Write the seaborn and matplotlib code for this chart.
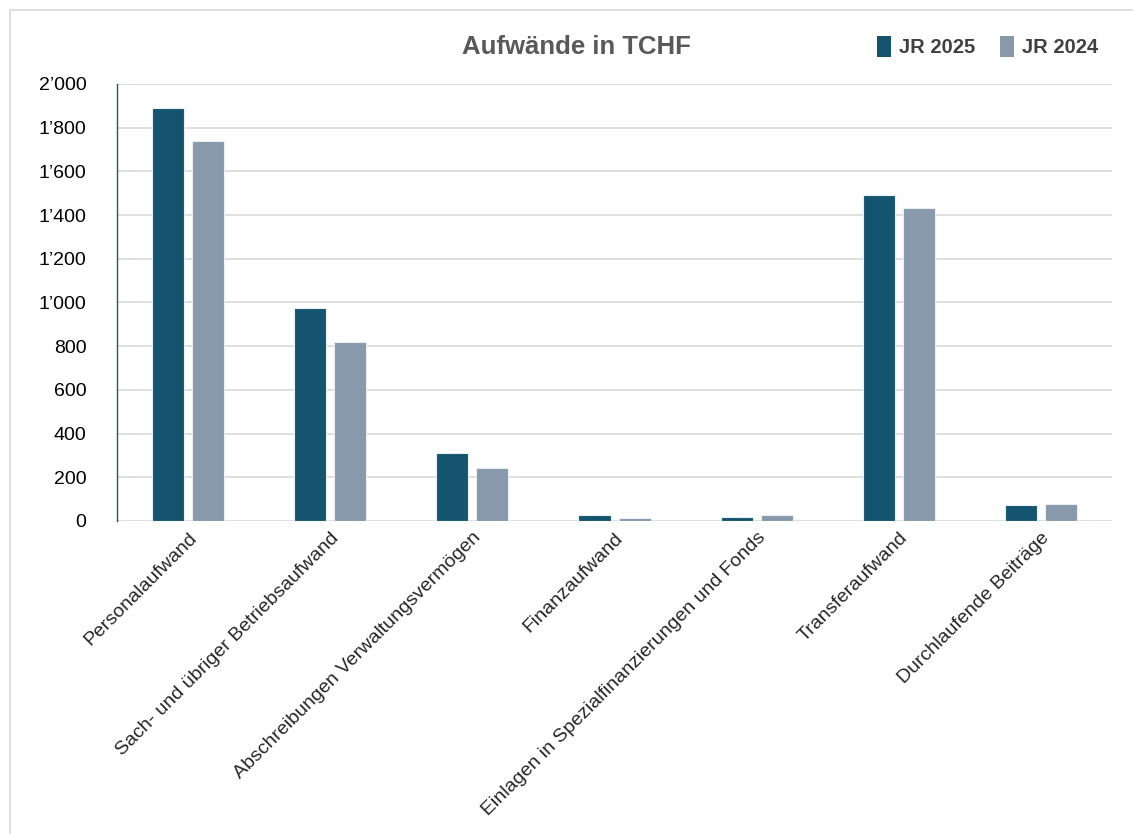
import matplotlib
matplotlib.use("Agg")
import matplotlib.pyplot as plt
import seaborn as sns
import pandas as pd
from matplotlib.ticker import FuncFormatter
from matplotlib.patches import Rectangle, Patch

categories = ["Personalaufwand", "Sach- und übriger Betriebsaufwand",
              "Abschreibungen Verwaltungsvermögen", "Finanzaufwand",
              "Einlagen in Spezialfinanzierungen und Fonds", "Transferaufwand",
              "Durchlaufende Beiträge"]
jr2025 = [1889, 974, 310, 26, 20, 1490, 74]
jr2024 = [1740, 820, 242, 12, 27, 1434, 79]
series = ["JR 2025", "JR 2024"]
colors = ["#14546f", "#8799ab"]
yticks = [0, 200, 400, 600, 800, 1000, 1200, 1400, 1600, 1800, 2000]

df = pd.DataFrame({
    "Kategorie": categories * 2,
    "Wert": jr2025 + jr2024,
    "Jahr": [series[0]] * len(categories) + [series[1]] * len(categories),
})

sns.set_theme(style="white")
plt.rcParams["font.family"] = ["Liberation Sans Narrow", "Liberation Sans", "DejaVu Sans"]

fig = plt.figure(figsize=(11.33, 8.34), dpi=100)
ax = fig.add_axes([0.1033, 0.3753, 0.8782, 0.524])

sns.barplot(data=df, x="Kategorie", y="Wert", hue="Jahr", order=categories,
            hue_order=series, palette=colors, saturation=1, width=0.564, gap=0.2,
            edgecolor="#e8eef2", linewidth=0.8, ax=ax, legend=False, zorder=3)

ax.set_ylim(0, 2000)
ax.set_xlim(-0.5, len(categories) - 0.5)
ax.set_yticks(yticks)
ax.yaxis.set_major_formatter(FuncFormatter(lambda v, p: f"{int(v):,}".replace(",", "’")))
ax.grid(axis="y", color="#d9d9d9", linewidth=1.2, zorder=0)
ax.set_axisbelow(True)
for s in ["top", "right", "bottom"]:
    ax.spines[s].set_visible(False)
ax.spines["left"].set_color("#1f5a78")
ax.spines["left"].set_linewidth(1.0)
ax.tick_params(axis="y", labelsize=14, colors="#000000", length=0, pad=22)
ax.tick_params(axis="x", labelsize=14, length=0, pad=6)
ax.set_xlabel("")
ax.set_ylabel("")
for lbl in ax.get_xticklabels():
    lbl.set_rotation(45)
    lbl.set_ha("right")
    lbl.set_rotation_mode("anchor")

fig.text(0.509, 0.944, "Aufwände in TCHF", ha="center", va="center",
         fontsize=18.5, fontweight="bold", color="#595959")

handles = [Patch(facecolor=c, edgecolor="none") for c in colors]
fig.legend(handles, series, loc="center right", bbox_to_anchor=(0.985, 0.944),
           ncol=2, frameon=False, prop={"weight": "bold", "size": 14.5},
           handlelength=0.7, handleheight=1.2, handletextpad=0.4, columnspacing=1.2,
           labelcolor="#404040")

fig.patches.append(Rectangle((0.009, -0.01), 1.1, 0.998, transform=fig.transFigure,
                             fill=False, edgecolor="#d9d9d9", linewidth=1.2))

fig.savefig("out.png", dpi=100)
